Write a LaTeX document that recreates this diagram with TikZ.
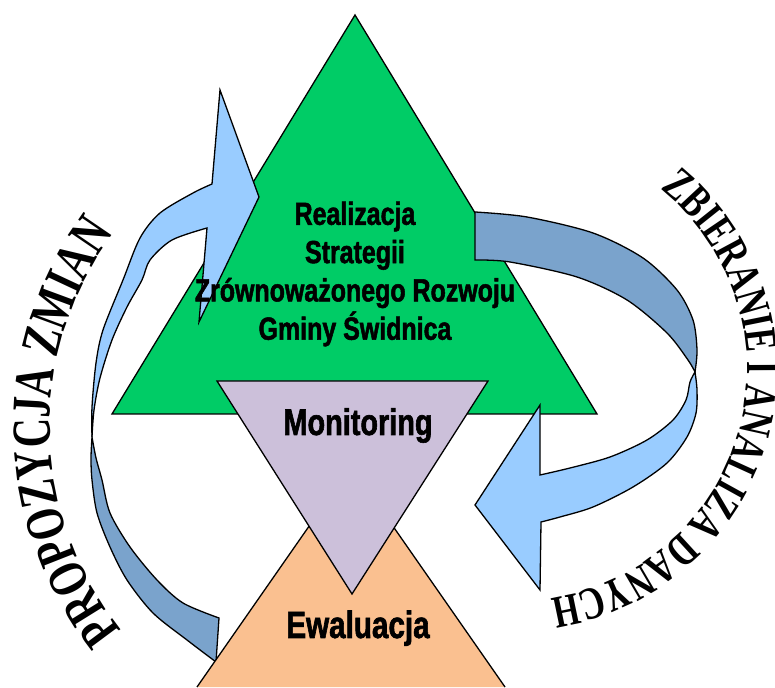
\documentclass[tikz,border=0pt]{standalone}
\usepackage{fontspec}
\newfontfamily\condsans[FakeStretch=0.78,FakeBold=1.6]{Liberation Sans Bold}
\newfontfamily\condserif[FakeStretch=0.74]{Liberation Serif Bold}
\usetikzlibrary{decorations.text}
\definecolor{triGreen}{RGB}{0,204,102}
\definecolor{triLilac}{RGB}{204,192,218}
\definecolor{triPeach}{RGB}{250,192,144}
\definecolor{bandFront}{RGB}{153,204,255}
\definecolor{bandBack}{RGB}{122,163,204}
\newcommand{\leftarcfont}{\condserif\fontsize{55}{55}\selectfont}
\newcommand{\rightarcfont}{\condserif\fontsize{46}{46}\selectfont}

\begin{document}
\begin{tikzpicture}[x=1pt, y=1pt, line width=1.3pt]
\tikzset{
  shapeline/.style={draw=black, line width=1.3pt},
  boxtext/.style={font=\condsans\fontsize{#1}{#1}\selectfont, anchor=base}
}
\useasboundingbox (0,0) rectangle (775,687);
% green triangle
\filldraw[shapeline, fill=triGreen] (355,672) -- (112,273) -- (597,273) -- cycle;
% left arrow, back side
\filldraw[shapeline, fill=bandBack] plot[smooth] coordinates {(92,250) (91,229) (92,207) (97,174) (110,140) (127,107) (153,74) (187,47) (216,25)} -- (219,69) -- plot[smooth] coordinates {(219,69) (183,84) (157,107) (130,140) (110,174) (102,207) (96,229) (92,250)} -- cycle;
% left arrow, front side
\filldraw[shapeline, fill=bandFront] plot[smooth] coordinates {(92,250) (92,280) (96,324) (103,357) (123,407) (140,449) (160,474) (193,494) (212,503)} -- (220,597) -- (259,490) -- (199,365) -- (207,459) -- plot[smooth] coordinates {(207,459) (172,447) (150,427) (142,407) (127,380) (112,347) (100,309) (94,277) (92,250)} -- cycle;
% right arrow, back side
\filldraw[shapeline, fill=bandBack] plot[smooth] coordinates {(475,475) (527,470) (593,454) (643,429) (677,397) (693,367) (697,337) (695,315)} -- plot[smooth] coordinates {(695,315) (688,327) (667,354) (627,387) (577,410) (510,425) (475,427)} -- cycle;
% right arrow, front side
\filldraw[shapeline, fill=bandFront] plot[smooth] coordinates {(695,315) (697,297) (696,274) (687,250) (667,224) (633,200) (593,180) (560,170) (541,165)} -- (540,97) -- (475,182) -- (540,282) -- (540,212) -- plot[smooth] coordinates {(540,212) (570,219) (610,230) (647,247) (673,267) (686,287) (690,305) (695,315)} -- cycle;
% orange and lilac triangles
\filldraw[shapeline, fill=triPeach] (197,0) -- (351,221) -- (505,0);
\filldraw[shapeline, fill=triLilac] (217,306) -- (488,306) -- (352,93) -- cycle;
% texts
\node[font=\condsans\fontsize{32}{38.3}\selectfont, align=center] (realizacja) at (355,413)
  {Realizacja\\Strategii\\Zrównoważonego Rozwoju\\Gminy Świdnica};
\node[boxtext=37] (monitoring) at (358,252) {Monitoring};
\node[boxtext=38] (ewaluacja) at (358,49) {Ewaluacja};
% texts along the arcs
\path[decorate, decoration={text along path, text align=center,
  text={|\leftarcfont|PROPOZYCJA ZMIAN}}] (268.5,-46.3) arc[start angle=251, end angle=111, radius=324];
\path[decorate, decoration={text along path, text align=center,
  text={|\rightarcfont|ZBIERANIE I ANALIZA DANYCH}}] (556.1,544.5) arc[start angle=80, end angle=-110, radius=231];
\end{tikzpicture}
\end{document}
